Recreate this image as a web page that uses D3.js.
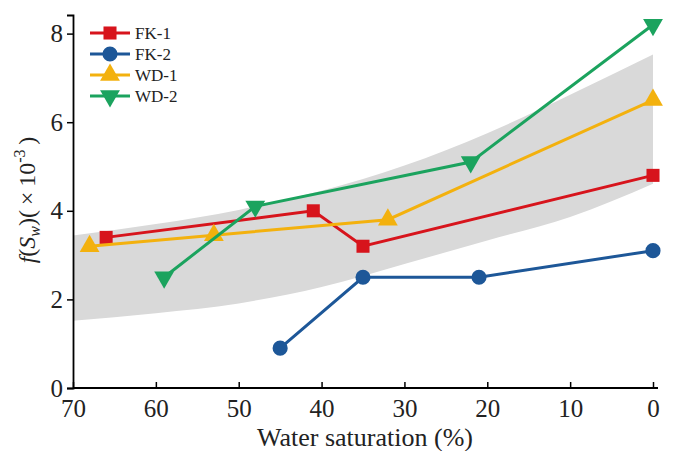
<!DOCTYPE html>
<html>
<head>
<meta charset="utf-8">
<script src="https://cdn.jsdelivr.net/npm/d3@7"></script>
<style>
  body { margin: 0; background: #fff; }
</style>
</head>
<body>
<div class="vis-container"></div>
<script>
// series data: water saturation (%) and f(Sw) (x10^-3)
const seriesNames = ['FK-1', 'FK-2', 'WD-1', 'WD-2'];
const fk1X = [66, 41, 35, 0];
const fk1Y = [3.4, 4.0, 3.2, 4.8];
const fk2X = [45, 35, 21, 0];
const fk2Y = [0.9, 2.5, 2.5, 3.1];
const wd1X = [68, 53, 32, 0];
const wd1Y = [3.2, 3.45, 3.8, 6.5];
const wd2X = [59, 48, 22, 0];
const wd2Y = [2.5, 4.1, 5.1, 8.2];

// grey envelope, read at each 10 %
const bandX = [70, 60, 50, 40, 30, 20, 10, 0];
const bandUpper = [3.44, 3.70, 4.02, 4.45, 5.02, 5.75, 6.62, 7.53];
const bandLower = [1.52, 1.69, 1.91, 2.28, 2.80, 3.33, 3.86, 4.61];

const xTicks = [70, 60, 50, 40, 30, 20, 10, 0];
const yTicks = [0, 2, 4, 6, 8];

const COLORS = ['#d7141c', '#1d5798', '#f3b10e', '#1ba35e'];
const FONT = '"Liberation Serif", "Times New Roman", serif';

document.addEventListener('DOMContentLoaded', () => {
  buildChart();
});

function buildChart() {
  const width = 675;
  const height = 451;
  const svg = d3.select('.vis-container').append('svg')
    .attr('width', width)
    .attr('height', height)
    .attr('font-family', FONT);

  const x = d3.scaleLinear().domain([70, 0]).range([73, 653]);
  const y = d3.scaleLinear().domain([0, 8.42]).range([388, 15]);

  // band
  const bandData = bandX.map((d, i) => ({x: d, lo: bandLower[i], hi: bandUpper[i]}));
  const area = d3.area()
    .x(d => x(d.x))
    .y0(d => y(d.lo))
    .y1(d => y(d.hi))
    .curve(d3.curveMonotoneX);
  svg.append('path')
    .attr('d', area(bandData))
    .attr('fill', '#d9d9d9');

  // axes
  const xAxis = svg.append('g')
    .attr('transform', `translate(0, ${y(0)})`)
    .call(d3.axisBottom(x).tickValues(xTicks).tickSizeInner(-6).tickSizeOuter(0).tickPadding(10));
  xAxis.attr('font-family', FONT);
  xAxis.select('.domain').attr('d', `M${x(70)},0H${x(0) + 5}`);
  xAxis.selectAll('line').attr('stroke', '#000').attr('stroke-width', 1.5);
  xAxis.select('.domain').attr('stroke', '#000').attr('stroke-width', 1.8);
  xAxis.selectAll('text')
    .attr('font-size', 25)
    .attr('dy', '0.74em')
    .attr('fill', '#222');

  const yAxis = svg.append('g')
    .attr('transform', `translate(${x(70)}, 0)`)
    .call(d3.axisLeft(y).tickValues(yTicks).tickSizeOuter(0).tickSize(6).tickPadding(4));
  yAxis.attr('font-family', FONT);
  yAxis.select('.domain').attr('stroke', '#000').attr('stroke-width', 1.8);
  yAxis.selectAll('line').attr('stroke', '#000').attr('stroke-width', 1.5);
  yAxis.selectAll('text')
    .attr('font-size', 25)
    .attr('fill', '#222');

  // axis titles
  svg.append('text')
    .attr('x', 365)
    .attr('y', 446)
    .attr('text-anchor', 'middle')
    .attr('font-size', 26)
    .attr('fill', '#222')
    .text('Water saturation (%)');

  const yTitle = svg.append('text')
    .attr('transform', 'translate(35, 200) rotate(-90)')
    .attr('text-anchor', 'middle')
    .attr('font-size', 24)
    .attr('fill', '#222');
  yTitle.append('tspan').attr('font-style', 'italic').text('f');
  yTitle.append('tspan').text('(');
  yTitle.append('tspan').attr('font-style', 'italic').text('S');
  yTitle.append('tspan').attr('font-size', 16).attr('font-style', 'italic').attr('dy', 5).text('w');
  yTitle.append('tspan').attr('dy', -5).text(')(\u2009×\u200910');
  yTitle.append('tspan').attr('font-size', 16).attr('dy', -10).text('-3');
  yTitle.append('tspan').attr('dy', 10).text('\u2009)');

  // series
  const series = [
    {name: seriesNames[0], xs: fk1X, ys: fk1Y, sym: d3.symbolSquare, size: 170, rot: 0},
    {name: seriesNames[1], xs: fk2X, ys: fk2Y, sym: d3.symbolCircle, size: 180, rot: 0},
    {name: seriesNames[2], xs: wd1X, ys: wd1Y, sym: d3.symbolTriangle, size: 170, rot: 0},
    {name: seriesNames[3], xs: wd2X, ys: wd2Y, sym: d3.symbolTriangle, size: 170, rot: 180}
  ];

  const line = d3.line().x(d => x(d[0])).y(d => y(d[1]));

  series.forEach((s, i) => {
    const pts = s.xs.map((d, j) => [d, s.ys[j]]);
    svg.append('path')
      .attr('d', line(pts))
      .attr('fill', 'none')
      .attr('stroke', COLORS[i])
      .attr('stroke-width', 3);
    svg.selectAll('.mk' + i).data(pts)
      .enter().append('path')
        .attr('class', 'mk' + i)
        .attr('d', d3.symbol().type(s.sym).size(s.size))
        .attr('transform', d => `translate(${x(d[0])}, ${y(d[1])}) rotate(${s.rot})`)
        .attr('fill', COLORS[i]);
  });

  // legend
  const legend = svg.append('g').attr('transform', 'translate(90, 33)');
  series.forEach((s, i) => {
    const g = legend.append('g').attr('transform', `translate(0, ${i * 21})`);
    g.append('line')
      .attr('x1', 0).attr('x2', 40)
      .attr('stroke', COLORS[i])
      .attr('stroke-width', 3);
    g.append('path')
      .attr('d', d3.symbol().type(s.sym).size(s.size))
      .attr('transform', `translate(20, 0) rotate(${s.rot})`)
      .attr('fill', COLORS[i]);
    g.append('text')
      .attr('x', 45)
      .attr('dy', '0.35em')
      .attr('font-size', 17)
      .attr('fill', '#222')
      .text(s.name);
  });
}
</script>
</body>
</html>
